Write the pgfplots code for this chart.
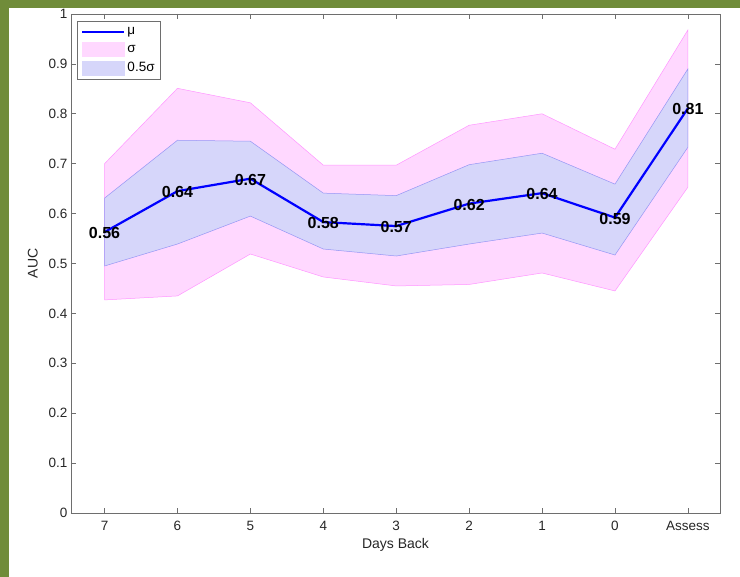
\documentclass[border=0pt]{standalone}
\usepackage{pgfplots}
\pgfplotsset{compat=1.18}
\usepackage{fontspec}
\setmainfont{Liberation Sans}
\definecolor{bggreen}{RGB}{112,140,58}
\definecolor{pinkfill}{RGB}{255,216,255}
\definecolor{pinkedge}{RGB}{255,150,255}
\definecolor{lavfill}{RGB}{214,214,250}
\definecolor{lavedge}{RGB}{150,150,245}
\definecolor{axgray}{RGB}{110,110,110}
\begin{document}
\begin{tikzpicture}
\fill[bggreen] (0pt,0pt) rectangle (740pt,577pt);
\fill[white] (9pt,0pt) rectangle (740pt,569pt);
\begin{axis}[
  at={(71pt,64pt)}, anchor=south west,
  scale only axis, width=649pt, height=499pt,
  xmin=-0.46, xmax=8.44, ymin=0, ymax=1,
  xtick={0,...,8}, xticklabels={7,6,5,4,3,2,1,0,Assess},
  ytick={0,0.1,...,1.0},
  yticklabels={0,0.1,0.2,0.3,0.4,0.5,0.6,0.7,0.8,0.9,1},
  tick align=inside, major tick length=5pt,
  tick style={axgray, line width=0.6pt},
  axis line style={axgray, line width=0.8pt},
  ticklabel style={font=\fontsize{13.5}{15}\selectfont, text=black!85},
  /pgf/number format/assume math mode=true,
  xticklabel style={yshift=-5pt},
  yticklabel style={xshift=0pt},
  xlabel={Days Back}, ylabel={AUC},
  label style={font=\fontsize{14}{16}\selectfont, text=black!85},
  xlabel style={yshift=0pt},
  ylabel style={yshift=4pt},
  legend style={at={(rel axis cs:0,1)}, anchor=north west, xshift=6pt, yshift=-7pt,
    draw=axgray, line width=0.6pt, font=\fontsize{13.5}{15}\selectfont, row sep=4pt,
    inner xsep=4pt, inner ysep=4pt},
  legend cell align=left,
  legend image code/.code={\draw[#1] (0pt,0pt) -- (42pt,0pt);},
  clip=false,
]
\addlegendimage{blue, line width=2.2pt}
\addlegendentry{μ}
\addlegendimage{area legend, fill=pinkfill, draw=pinkfill, legend image code/.code={\fill[pinkfill] (0pt,-7pt) rectangle (42pt,7pt);}}
\addlegendentry{σ}
\addlegendimage{area legend, fill=lavfill, draw=lavfill, legend image code/.code={\fill[lavfill] (0pt,-7pt) rectangle (42pt,7pt);}}
\addlegendentry{0.5σ}
% sigma band
\addplot[fill=pinkfill, draw=pinkedge, line width=0.5pt, forget plot] coordinates {
(0,0.700) (1,0.851) (2,0.822) (3,0.697) (4,0.697) (5,0.777) (6,0.800) (7,0.729) (8,0.968)
(8,0.653) (7,0.445) (6,0.481) (5,0.458) (4,0.455) (3,0.473) (2,0.519) (1,0.435) (0,0.427)
} -- cycle;
% half sigma band
\addplot[fill=lavfill, draw=lavedge, line width=0.5pt, forget plot] coordinates {
(0,0.631) (1,0.747) (2,0.745) (3,0.641) (4,0.636) (5,0.698) (6,0.721) (7,0.659) (8,0.890)
(8,0.733) (7,0.517) (6,0.561) (5,0.539) (4,0.515) (3,0.529) (2,0.595) (1,0.539) (0,0.495)
} -- cycle;
% mean
\addplot[blue, line width=2.2pt, forget plot,
  nodes near coords, point meta=explicit symbolic,
  every node near coord/.append style={anchor=center, font=\fontsize{16}{18}\selectfont\bfseries, text=black, yshift=-1pt}]
  table[x=x, y=mu, meta=lab] {
x mu lab
0 0.563 0.56
1 0.645 0.64
2 0.670 0.67
3 0.583 0.58
4 0.575 0.57
5 0.620 0.62
6 0.641 0.64
7 0.592 0.59
8 0.811 0.81
};
\end{axis}
\end{tikzpicture}
\end{document}
